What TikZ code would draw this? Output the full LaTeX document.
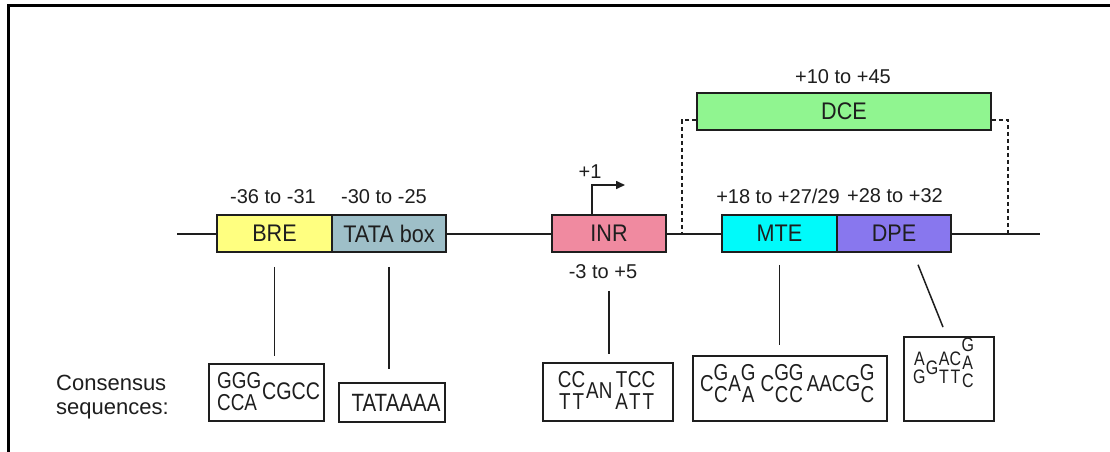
\documentclass[tikz,border=0pt]{standalone}
\usepackage{fontspec}
\setmainfont{Liberation Sans}
\newfontfamily\seqfont[FakeStretch=0.82]{Liberation Sans}
\newfontfamily\elemfont[FakeStretch=0.9]{Liberation Sans}
\usetikzlibrary{arrows.meta}
\definecolor{breY}{HTML}{FFFF80}
\definecolor{tataC}{HTML}{9EBFC8}
\definecolor{inrP}{HTML}{F08AA0}
\definecolor{mteC}{HTML}{00FAFA}
\definecolor{dpeP}{HTML}{8877EE}
\definecolor{dceG}{HTML}{90F590}
\definecolor{ink}{HTML}{1E1E1E}
\begin{document}
\begin{tikzpicture}[x=1pt,y=-1pt,
  elem/.style={draw=ink, line width=1.5pt, minimum height=37pt, inner sep=0pt,
    font=\elemfont\fontsize{24}{24}\selectfont, text=ink},
  lbl/.style={inner sep=0pt, font=\fontsize{20}{20}\selectfont, text=ink},
  seqbox/.style={draw=ink, line width=1.8pt, inner sep=0pt},
  sq/.style={inner sep=0pt, font=\seqfont\fontsize{23}{23}\selectfont, text=ink},
  sqs/.style={inner sep=0pt, font=\seqfont\fontsize{19.5}{19.5}\selectfont, text=ink},
  link/.style={draw=ink, line width=1.5pt},
  dcelink/.style={draw=ink, line width=1.3pt, dash pattern=on 4pt off 3pt}
]
\useasboundingbox (0,0) rectangle (1110,452);
\fill[white] (0,0) rectangle (1110,452);
% frame
\draw[line width=3pt, black] (8.5,452) -- (8.5,6) -- (1110,6);

% main line
\coordinate (lstart) at (177,234);
\coordinate (lend) at (1040,234);
\draw[link] (lstart) -- (lend);

% elements
\node[elem, fill=breY, minimum width=115pt] (BRE) at (274.5,233.5) {BRE};
\node[elem, fill=tataC, minimum width=114pt] (TATA) at (389,233.5) {TATA box};
\node[elem, fill=inrP, minimum width=114pt] (INR) at (609,233.5) {INR};
\node[elem, fill=mteC, minimum width=115pt] (MTE) at (779.5,233.5) {MTE};
\node[elem, fill=dpeP, minimum width=114pt] (DPE) at (894,233.5) {DPE};
\node[elem, fill=dceG, minimum width=294pt] (DCE) at (844,111.5) {DCE};

% position labels
\node[lbl] (lbre) at (273,197) {-36 to -31};
\node[lbl] (ltata) at (384,197) {-30 to -25};
\node[lbl] (linr) at (603,272) {-3 to +5};
\node[lbl] (lmte) at (778,196) {+18 to +27/29};
\node[lbl] (ldpe) at (895,196) {+28 to +32};
\node[lbl] (ldce) at (843,77) {+10 to +45};
\node[lbl] (lone) at (590,172) {+1};

% transcription start arrow
\coordinate (tss) at (592,185);
\coordinate (tssend) at (625,185);
\draw[line width=1.6pt, ink, -{Triangle[length=9pt,width=8pt]}] (INR.north -| tss) -- (tss) -- (tssend);

% DCE dashed brackets
\coordinate (dl) at (682,234);
\coordinate (dr) at (1008,234);
\draw[dcelink] ([yshift=-8.5pt]DCE.west) -| (dl);
\draw[dcelink] ([yshift=-8.5pt]DCE.east) -| (dr);

% consensus label
\node[anchor=base west, inner sep=0pt, font=\fontsize{22}{22}\selectfont, text=ink] (cons1) at (56,390) {Consensus};
\node[anchor=base west, inner sep=0pt, font=\fontsize{22}{22}\selectfont, text=ink] (cons2) at (56,414) {sequences:};

% sequence boxes
\node[seqbox, minimum width=115pt, minimum height=57pt] (breseq) at (266.5,392.5) {};
\node[seqbox, minimum width=106pt, minimum height=39pt] (tataseq) at (392,402.5) {};
\node[seqbox, minimum width=130pt, minimum height=58pt] (inrseq) at (608,392) {};
\node[seqbox, minimum width=194pt, minimum height=65pt] (mteseq) at (790,388.5) {};
\node[seqbox, minimum width=90pt, minimum height=84pt] (dpeseq) at (949,379) {};

% connectors
\draw[link] ([yshift=-14pt]BRE.south) -- ([yshift=7pt]BRE.south |- breseq.north);
\draw[link] ([yshift=-14pt]TATA.south) -- ([yshift=13pt]TATA.south |- tataseq.north);
\draw[link] ([yshift=-38pt]INR.south) -- ([yshift=8pt]INR.south |- inrseq.north);
\draw[link] ([yshift=-12pt]MTE.south) -- ([yshift=10pt]MTE.south |- mteseq.north);
\draw[link] ([xshift=24pt,yshift=-12pt]DPE.south) -- ([xshift=-6pt,yshift=9pt]dpeseq.north);

% BRE consensus
\node[sq, anchor=west] (b1) at (217,381) {GGG};
\node[sq, anchor=west] (b2) at (217,403) {CCA};
\node[sq, anchor=west, font=\seqfont\fontsize{24}{24}\selectfont] (b3) at (262,391) {CGCC};

% TATA consensus
\node[sq, font=\seqfont\fontsize{25}{25}\selectfont] (t1) at (396,403) {TATAAAA};

% INR consensus
\node[sq] (i1t) at (564.8,380) {C};
\node[sq] (i1b) at (564.8,402) {T};
\node[sq] (i2t) at (578.4,380) {C};
\node[sq] (i2b) at (578.4,402) {T};
\node[sq, anchor=west] (i3) at (586,391) {AN};
\node[sq] (i5t) at (621.7,380) {T};
\node[sq] (i5b) at (621.7,402) {A};
\node[sq] (i6t) at (634.8,380) {C};
\node[sq] (i6b) at (634.8,402) {T};
\node[sq] (i7t) at (648.4,380) {C};
\node[sq] (i7b) at (648.4,402) {T};

% MTE consensus
\node[sq] (m1) at (706.8,384) {C};
\node[sq] (m2t) at (721.0,373) {G};
\node[sq] (m2b) at (721.0,395) {C};
\node[sq] (m3) at (734.6,384) {A};
\node[sq] (m4t) at (748.2,373) {G};
\node[sq] (m4b) at (748.2,395) {A};
\node[sq] (m5) at (767.4,384) {C};
\node[sq] (m6t) at (781.6,373) {G};
\node[sq] (m6b) at (781.6,395) {C};
\node[sq] (m7t) at (796.2,373) {G};
\node[sq] (m7b) at (796.2,395) {C};
\node[sq, anchor=west] (m8) at (806.6,384) {AACG};
\node[sq] (m12t) at (867.3,373) {G};
\node[sq] (m12b) at (867.3,395) {C};

% DPE consensus
\node[sqs] (d1t) at (919.4,359) {A};
\node[sqs] (d1b) at (919.4,377) {G};
\node[sqs] (d2) at (932.2,368) {G};
\node[sqs] (d3t) at (944.1,359) {A};
\node[sqs] (d3b) at (944.1,377) {T};
\node[sqs] (d4t) at (955.4,359) {C};
\node[sqs] (d4b) at (955.4,377) {T};
\node[sqs] (d5a) at (967.8,345) {G};
\node[sqs] (d5b) at (967.8,363) {A};
\node[sqs] (d5c) at (967.8,381) {C};
\end{tikzpicture}
\end{document}
